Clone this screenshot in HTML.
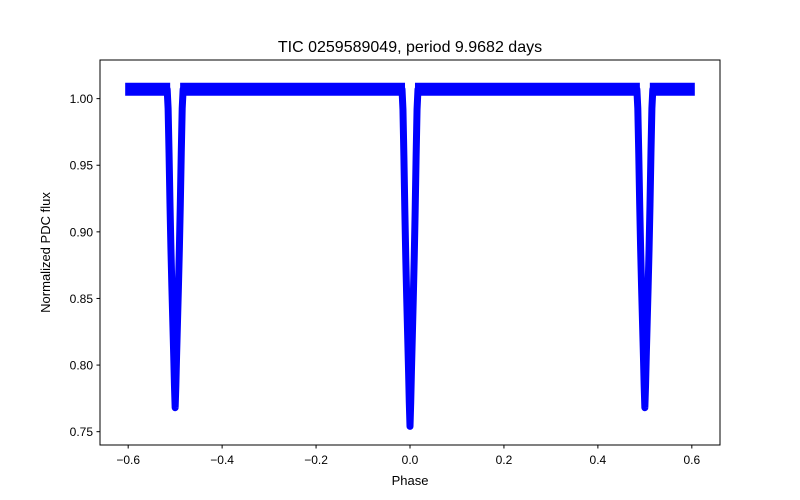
<!DOCTYPE html>
<html><head><meta charset="utf-8"><style>
body{margin:0;background:#fff;}
svg{display:block;font-family:"Liberation Sans","DejaVu Sans",sans-serif;}
</style></head><body>
<svg id="chart" width="800" height="500" viewBox="0 0 800 500">
<rect width="800" height="500" fill="#fff"/>
<text x="410" y="52" font-size="16" text-anchor="middle">TIC 0259589049, period 9.9682 days</text>
<g id="plot"></g>
<g id="axes"></g>
<rect x="100" y="60" width="620" height="385" fill="none" stroke="#000" stroke-width="1"/>
<text x="410" y="485" font-size="13" text-anchor="middle">Phase</text>
<text transform="translate(50,252.5) rotate(-90)" font-size="13" text-anchor="middle">Normalized PDC flux</text>
</svg>
<script>
const xTicks=[-0.6,-0.4,-0.2,0.0,0.2,0.4,0.6];
const xTickLabels=["−0.6","−0.4","−0.2","0.0","0.2","0.4","0.6"];
const yTicks=[0.75,0.80,0.85,0.90,0.95,1.00];
const yTickLabels=["0.75","0.80","0.85","0.90","0.95","1.00"];
const eclipseCenters=[-0.5,0.0,0.5];
const eclipseMinFlux=[0.768,0.754,0.768];
const profileOffsets=[-0.017,-0.015,-0.013,-0.011,-0.009,-0.007,-0.005,-0.003,-0.0015,0,0.0015,0.003,0.005,0.007,0.009,0.011,0.013,0.015,0.017];
const profileDepthFrac=[0.0,0.06,0.2,0.36,0.5,0.62,0.73,0.84,0.93,1.0,0.93,0.84,0.73,0.62,0.5,0.36,0.2,0.06,0.0];
const baselineFlux=1.007;
const phaseRange=[-0.6,0.6];
const xMin=-0.66,xMax=0.66,yMin=0.740,yMax=1.029;
const X=v=>100+(v-xMin)/(xMax-xMin)*620;
const Y=v=>445-(v-yMin)/(yMax-yMin)*385;
const NS="http://www.w3.org/2000/svg";
const plot=document.getElementById('plot'),axes=document.getElementById('axes');
function mk(t,a,p){const e=document.createElementNS(NS,t);for(const k in a)e.setAttribute(k,a[k]);p.appendChild(e);return e;}
const edges=[phaseRange[0]];
eclipseCenters.forEach(c=>{edges.push(c+profileOffsets[0]);edges.push(c+profileOffsets[profileOffsets.length-1]);});
edges.push(phaseRange[1]);
for(let i=0;i<edges.length;i+=2){
  const a=Math.max(edges[i],phaseRange[0]),b=Math.min(edges[i+1],phaseRange[1]);
  if(b<=a)continue;
  const l=mk('line',{x1:X(a)-3,x2:X(b)+3,y1:Y(baselineFlux),y2:Y(baselineFlux),stroke:'#0000ff','stroke-width':13,'stroke-linecap':'butt'},plot);
  
  
}
eclipseCenters.forEach((c,i)=>{
  const pts=profileOffsets.map((o,j)=>X(c+o)+','+Y(baselineFlux-profileDepthFrac[j]*(baselineFlux-eclipseMinFlux[i]))).join(' ');
  const p=mk('polyline',{points:pts,fill:'none',stroke:'#0000ff','stroke-width':7,'stroke-linejoin':'round','stroke-linecap':'round'},plot);
  
  
});
xTicks.forEach((t,i)=>{
  const x=X(t);
  const l=mk('line',{x1:x,x2:x,y1:445,y2:448.5,stroke:'#000'},axes);
  
  
  const tx=mk('text',{x:x,y:464,'font-size':12,'text-anchor':'middle'},axes);
  tx.textContent=xTickLabels[i];
  
  
});
yTicks.forEach((t,i)=>{
  const y=Y(t);
  const l=mk('line',{x1:96.5,x2:100,y1:y,y2:y,stroke:'#000'},axes);
  
  
  const tx=mk('text',{x:93,y:y+4.5,'font-size':12,'text-anchor':'end'},axes);
  tx.textContent=yTickLabels[i];
  
  
});
</script>
</body></html>
